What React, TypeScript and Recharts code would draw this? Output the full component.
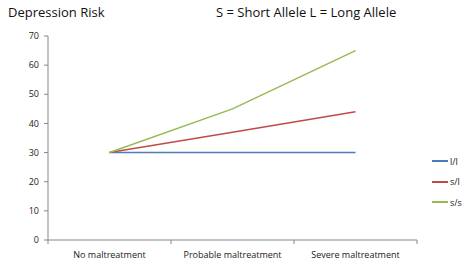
import { LineChart, Line, XAxis, YAxis } from "recharts";

const categories = ["No maltreatment", "Probable maltreatment", "Severe maltreatment"];
const ll = [30, 30, 30];
const sl = [30, 37, 44];
const ss = [30, 45, 65];
const yTicks = [0, 10, 20, 30, 40, 50, 60, 70];

const series = [
  { key: "ll", name: "l/l", color: "#4a7ebb" },
  { key: "sl", name: "s/l", color: "#be4b48" },
  { key: "ss", name: "s/s", color: "#98b954" },
];

const data = categories.map((name, i) => ({ name, ll: ll[i], sl: sl[i], ss: ss[i] }));

const W = 465;
const H = 265;
const LEFT = 48;
const RIGHT = 48;
const FONT = "'Open Sans', sans-serif";

// tick marks sit on the band edges, labels in the middle (Excel style)
function CategoryTick(props: any) {
  const { x, y, index } = props;
  const band = (W - LEFT - RIGHT) / categories.length;
  const edge = x - band / 2;
  return (
    <g>
      <line x1={edge} x2={edge} y1={y - 8} y2={y - 4} stroke="#868686" />
      {index === categories.length - 1 && (
        <line x1={edge + band} x2={edge + band} y1={y - 8} y2={y - 4} stroke="#868686" />
      )}
      <text x={x} y={y + 10} textAnchor="middle" fontSize={9} fill="#222" fontFamily={FONT}>
        {categories[index]}
      </text>
    </g>
  );
}

export default function App() {
  return (
    <div style={{ position: "absolute", left: 0, top: 0, width: W, height: H, background: "#fff" }}>
      <div style={{ position: "absolute", left: 8, top: 3, fontFamily: FONT, fontSize: 13, color: "#111" }}>
        Depression Risk
      </div>
      <div style={{ position: "absolute", left: 216, top: 3, fontFamily: FONT, fontSize: 13, color: "#111" }}>
        S = Short Allele L = Long Allele
      </div>
      <div style={{ position: "absolute", left: 432, top: 151, fontFamily: FONT, fontSize: 9, color: "#222" }}>
        {series.map((s) => (
          <div key={s.key} style={{ display: "flex", alignItems: "center", height: 20.5 }}>
            <span style={{ display: "inline-block", width: 16, height: 2, background: s.color, marginRight: 2 }}></span>
            <span>{s.name}</span>
          </div>
        ))}
      </div>
      <LineChart width={W} height={H} data={data} margin={{ top: 36, right: RIGHT, bottom: 0, left: 0 }}>
        <XAxis
          dataKey="name"
          scale="band"
          height={25}
          stroke="#868686"
          tickLine={false}
          tick={<CategoryTick />}
          interval={0}
        />
        <YAxis
          width={LEFT}
          domain={[0, 70]}
          ticks={yTicks}
          stroke="#868686"
          tickSize={4}
          tickMargin={5}
          tick={{ fontSize: 9, fill: "#222", fontFamily: FONT }}
        />
        {series.map((s) => (
          <Line
            key={s.key}
            dataKey={s.key}
            name={s.name}
            stroke={s.color}
            strokeWidth={1.5}
            dot={false}
            isAnimationActive={false}
          />
        ))}
      </LineChart>
    </div>
  );
}
